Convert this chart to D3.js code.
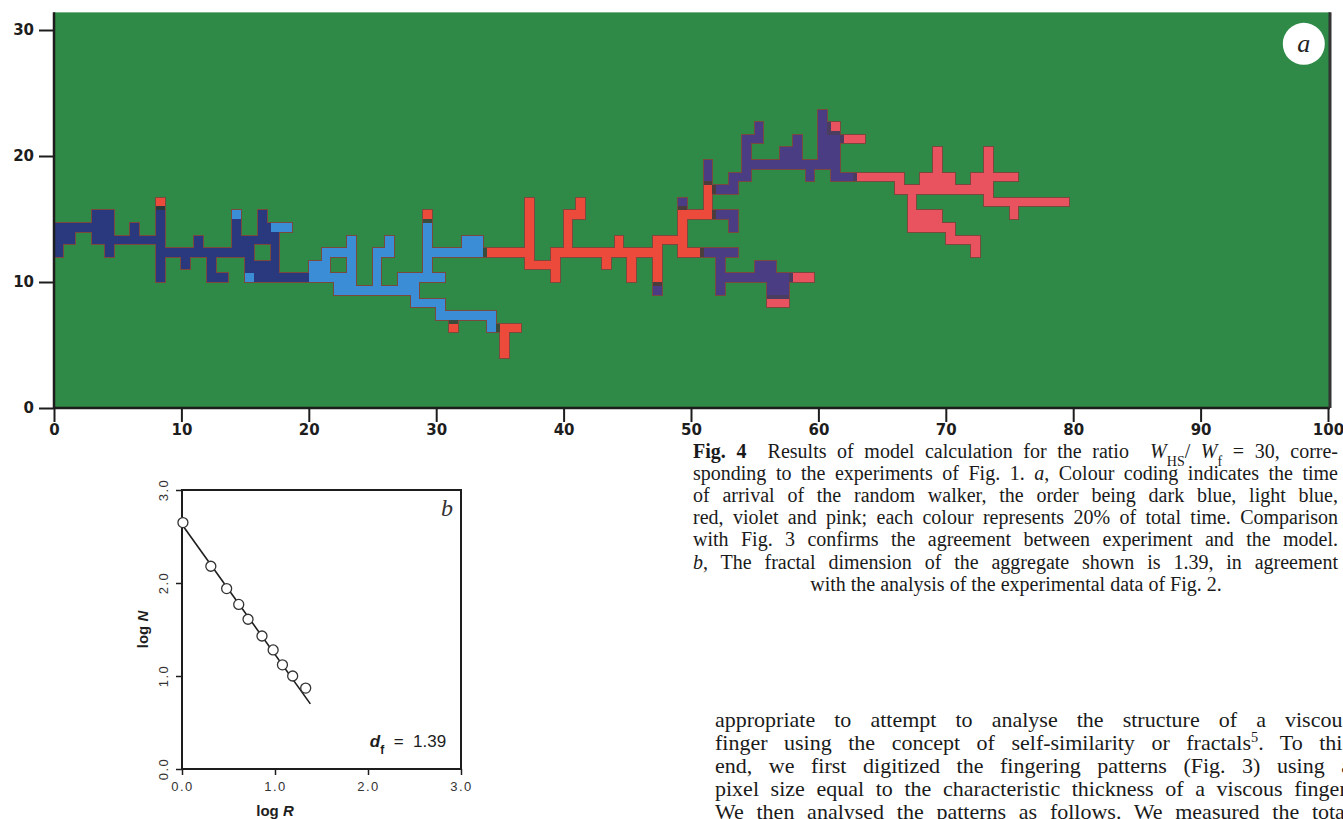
<!DOCTYPE html>
<html>
<head>
<meta charset="utf-8">
<script src="https://cdn.jsdelivr.net/npm/d3@7"></script>
<style>
  body { margin: 0; background: #fff; }
  svg { display: block; }
</style>
</head>
<body>
<svg id="fig" width="1343" height="819"></svg>
<script>
// ---- panel a : lattice cells, one unit per cell, [row, first col, last col]
var aXTicks = [0, 10, 20, 30, 40, 50, 60, 70, 80, 90, 100];
var aYTicks = [0, 10, 20, 30];

var darkBlue = [
  [12,0,0],[13,0,1],[14,0,2],
  [12,4,4],[13,3,4],[14,3,4],[15,3,4],
  [13,5,7],[14,6,6],
  [10,8,8],[11,8,8],[12,8,8],[13,8,8],[14,8,8],[15,8,8],
  [12,9,15],[13,11,11],[11,10,10],[11,12,12],[10,12,13],
  [13,14,14],[14,14,14],
  [11,15,17],[12,17,17],[13,15,17],
  [14,16,16],[15,16,16],
  [10,16,19]
];
var lightBlue = [
  [15,14,14],[10,15,15],[14,17,18],
  [9,22,28],[10,20,23],[11,20,21],[11,23,23],[12,21,23],[13,23,23],
  [10,25,25],[11,25,25],[12,25,26],[13,26,26],
  [10,27,30],[11,29,29],[12,29,33],[13,29,29],[14,29,29],[13,32,33],
  [8,28,30],[7,30,34],[6,34,34]
];
var red = [
  [16,8,8],[15,29,29],[6,31,31],[6,35,36],[4,35,35],[5,35,35],
  [12,34,37],[11,37,39],[13,37,37],[14,37,37],[15,37,37],[16,37,37],
  [10,39,39],[12,39,47],
  [13,40,40],[14,40,40],[15,40,41],[16,41,41],
  [13,44,44],[11,43,43],[10,45,45],[11,45,45],
  [10,47,47],[11,47,47],[13,47,48],
  [12,49,50],[13,49,49],[14,49,49],[15,49,51],[16,51,51],[17,51,51]
];
var violet = [
  [9,47,47],[16,49,49],[18,51,51],[19,51,51],
  [17,52,53],[18,53,54],[19,54,61],[20,54,54],[21,54,55],[22,55,55],
  [20,57,58],[21,58,58],[18,59,59],
  [20,60,61],[21,60,61],[22,60,60],[23,60,60],
  [18,61,62],
  [15,52,53],[14,53,53],
  [12,51,53],[9,52,52],[10,52,57],[11,52,52],[11,55,56],[9,56,57]
];
var pink = [
  [22,61,61],[21,62,63],[18,63,66],[17,66,73],[16,67,67],
  [18,68,70],[19,69,69],[20,69,69],
  [18,72,75],[19,73,73],[20,73,73],
  [16,73,79],[15,75,75],
  [15,67,69],[14,67,70],[13,70,72],[12,72,72],
  [10,58,59],[8,56,57]
];

// ---- panel b : log N against log R
var bTicks = [0, 1, 2, 3];
var logR = [0.01, 0.31, 0.48, 0.61, 0.71, 0.86, 0.98, 1.08, 1.19, 1.33];
var logN = [2.65, 2.18, 1.94, 1.77, 1.61, 1.43, 1.28, 1.12, 1.00, 0.87];
var fitR = [0, 1.38];
var fitN = [2.63, 0.70];

// ---- caption and running text
var captionLines = [
  [["Fig. 4", "b"], ["  Results of model calculation for the ratio  "], ["W", "i"], ["HS", "sub"], ["/ "], ["W", "i"], ["f", "sub"], [" = 30, corre-"]],
  [["sponding to the experiments of Fig. 1. "], ["a", "i"], [", Colour coding indicates the time"]],
  [["of arrival of the random walker, the order being dark blue, light blue,"]],
  [["red, violet and pink; each colour represents 20% of total time. Comparison"]],
  [["with Fig. 3 confirms the agreement between experiment and the model."]],
  [["b", "i"], [", The fractal dimension of the aggregate shown is 1.39, in agreement"]],
  [["with the analysis of the experimental data of Fig. 2."]]
];
var bodyLines = [
  [["appropriate to attempt to analyse the structure of a viscous"]],
  [["finger using the concept of self-similarity or fractals"], ["5", "sup"], [". To this"]],
  [["end, we first digitized the fingering patterns (Fig. 3) using a"]],
  [["pixel size equal to the characteristic thickness of a viscous finger."]],
  [["We then analysed the patterns as follows. We measured the total"]]
];

var palette = {
  green: "#2f8a47",
  edge: "#7a4a3e",
  darkBlue: "#2c387e",
  lightBlue: "#3a8ed6",
  red: "#ec4c3b",
  violet: "#4b3e84",
  pink: "#e9535e",
  ink: "#1d1d1d"
};

var svg = d3.select("#fig");
var defs = svg.append("defs");
defs.append("filter").attr("id", "edgeErode")
  .append("feMorphology").attr("operator", "erode").attr("radius", 1);
defs.append("filter").attr("id", "fillErode")
  .append("feMorphology").attr("operator", "erode").attr("radius", 2);

// ================= panel a =================
var xA = d3.scaleLinear().domain([0, 100]).range([54, 1328]);
var yA = d3.scaleLinear().domain([0, 30]).range([408, 30]);
var aTop = 31.4;

svg.append("rect")
  .attr("x", xA(0)).attr("y", yA(aTop))
  .attr("width", xA(100) - xA(0) + 2)
  .attr("height", yA(0) - yA(aTop))
  .attr("fill", palette.green);

var layers = [
  { runs: darkBlue, fill: palette.darkBlue },
  { runs: lightBlue, fill: palette.lightBlue },
  { runs: red, fill: palette.red },
  { runs: violet, fill: palette.violet },
  { runs: pink, fill: palette.pink }
];

function drawCells(g, runs, fill) {
  g.selectAll(null)
    .data(runs)
    .enter()
    .append("rect")
    .attr("shape-rendering", "crispEdges")
    .attr("x", d => xA(d[1]))
    .attr("y", d => yA(d[0] + 1))
    .attr("width", d => xA(d[2] + 1) - xA(d[1]))
    .attr("height", d => yA(d[0]) - yA(d[0] + 1))
    .attr("fill", fill);
}

// thin dark fringe round the aggregate, then the coloured cells
var edgeG = svg.append("g").attr("filter", "url(#edgeErode)").attr("transform", "translate(-2,2)");
layers.forEach(l => drawCells(edgeG, l.runs, palette.edge));
var fillG = svg.append("g").attr("filter", "url(#fillErode)").attr("transform", "translate(-2,2)");
layers.forEach(l => drawCells(fillG, l.runs, l.fill));

// axes
var axisFont = "'DejaVu Sans', sans-serif";
var gx = svg.append("g")
  .attr("transform", "translate(0," + yA(0) + ")")
  .call(d3.axisBottom(xA).tickValues(aXTicks).tickSize(14).tickPadding(2).tickSizeOuter(0));
gx.select(".domain").remove();
gx.selectAll("line").attr("stroke", palette.ink).attr("stroke-width", 2);
gx.selectAll("text").attr("fill", palette.ink)
  .style("font-family", axisFont).style("font-weight", "bold").style("font-size", "15px");

var gy = svg.append("g")
  .attr("transform", "translate(" + xA(0) + ",0)")
  .call(d3.axisLeft(yA).tickValues(aYTicks).tickSize(15).tickPadding(5).tickSizeOuter(0));
gy.select(".domain").remove();
gy.selectAll("line").attr("stroke", palette.ink).attr("stroke-width", 2);
gy.selectAll("text").attr("fill", palette.ink)
  .style("font-family", axisFont).style("font-weight", "bold").style("font-size", "15px");

svg.append("line")
  .attr("x1", xA(0)).attr("x2", xA(0)).attr("y1", yA(aTop)).attr("y2", yA(0) + 1)
  .attr("stroke", palette.ink).attr("stroke-width", 2.5);
svg.append("line")
  .attr("x1", xA(0)).attr("x2", xA(100) + 2).attr("y1", yA(0)).attr("y2", yA(0))
  .attr("stroke", palette.ink).attr("stroke-width", 2.5);
svg.append("line")
  .attr("x1", xA(100) + 2).attr("x2", xA(100) + 2).attr("y1", yA(aTop)).attr("y2", yA(0))
  .attr("stroke", "#333").attr("stroke-width", 3);

// panel letter
svg.append("circle").attr("cx", xA(98.1)).attr("cy", yA(28.9)).attr("r", 21).attr("fill", "#fff");
svg.append("text")
  .attr("x", xA(98.1)).attr("y", yA(28.9) + 8)
  .attr("text-anchor", "middle")
  .style("font-family", "'Liberation Serif', serif")
  .style("font-style", "italic").style("font-size", "26px")
  .attr("fill", "#222")
  .text("a");

// ================= panel b =================
var bx = d3.scaleLinear().domain([0, 3]).range([182, 461]);
var by = d3.scaleLinear().domain([0, 3]).range([769, 490]);
var bFont = "'Liberation Sans', sans-serif";

svg.append("rect")
  .attr("x", bx(0)).attr("y", by(3))
  .attr("width", bx(3) - bx(0)).attr("height", by(0) - by(3))
  .attr("fill", "none").attr("stroke", palette.ink).attr("stroke-width", 2);

var bxAxis = svg.append("g")
  .attr("transform", "translate(0," + by(0) + ")")
  .call(d3.axisBottom(bx).tickValues(bTicks).tickFormat(d3.format(".1f")).tickSize(6).tickPadding(7));
bxAxis.select(".domain").remove();
bxAxis.selectAll("line").attr("stroke", palette.ink).attr("stroke-width", 1.5);
bxAxis.selectAll("text").attr("fill", "#333")
  .style("font-family", bFont).style("font-size", "13px").style("letter-spacing", "1.5px");

var byAxis = svg.append("g")
  .attr("transform", "translate(" + bx(0) + ",0)")
  .call(d3.axisLeft(by).tickValues(bTicks).tickSize(6));
byAxis.select(".domain").remove();
byAxis.selectAll("text").remove();
byAxis.selectAll("line").attr("stroke", palette.ink).attr("stroke-width", 1.5);
svg.append("g").selectAll("text")
  .data(bTicks)
  .enter()
  .append("text")
  .attr("transform", d => "translate(" + (bx(0) - 14) + "," + by(d) + ") rotate(-90)")
  .attr("text-anchor", "middle")
  .attr("fill", "#333")
  .style("font-family", bFont).style("font-size", "13px").style("letter-spacing", "1.5px")
  .text(d3.format(".1f"));

// axis titles
var yTitle = svg.append("text")
  .attr("transform", "translate(" + (bx(0) - 34) + "," + by(1.5) + ") rotate(-90)")
  .attr("text-anchor", "middle")
  .attr("fill", palette.ink)
  .style("font-family", bFont).style("font-weight", "bold").style("font-size", "15px");
yTitle.append("tspan").text("log ");
yTitle.append("tspan").style("font-style", "italic").text("N");

var xTitle = svg.append("text")
  .attr("x", bx(1)).attr("y", by(0) + 47)
  .attr("text-anchor", "middle")
  .attr("fill", palette.ink)
  .style("font-family", bFont).style("font-weight", "bold").style("font-size", "15px");
xTitle.append("tspan").text("log ");
xTitle.append("tspan").style("font-style", "italic").text("R");

// fit line and points
var pts = logR.map((r, i) => ({ r: r, n: logN[i] }));
svg.append("path")
  .datum(fitR.map((r, i) => ({ r: r, n: fitN[i] })))
  .attr("d", d3.line().x(d => bx(d.r)).y(d => by(d.n)))
  .attr("fill", "none").attr("stroke", palette.ink).attr("stroke-width", 1.6);
svg.append("g").selectAll("circle")
  .data(pts)
  .enter()
  .append("circle")
  .attr("cx", d => bx(d.r)).attr("cy", d => by(d.n))
  .attr("r", 5)
  .attr("fill", "#fff").attr("stroke", "#333").attr("stroke-width", 1.3);

// dimension label and panel letter
var dLab = svg.append("text")
  .attr("x", bx(2.84)).attr("y", by(0.24))
  .attr("text-anchor", "end")
  .attr("fill", palette.ink)
  .style("white-space", "pre")
  .style("font-family", bFont).style("font-size", "17px");
dLab.append("tspan").style("font-weight", "bold").style("font-style", "italic").text("d");
dLab.append("tspan").style("font-weight", "bold").attr("baseline-shift", "sub").style("font-size", "12px").text("f");
dLab.append("tspan").text("  =  1.39");

svg.append("text")
  .attr("x", bx(2.85)).attr("y", by(2.72))
  .attr("text-anchor", "middle")
  .attr("fill", "#333")
  .style("font-family", "'Liberation Serif', serif")
  .style("font-style", "italic").style("font-size", "24px")
  .text("b");

// ================= text =================
// justified by widening the word gaps, like the printed page
function writeLine(x, y, segs, size, width, anchor) {
  var t = svg.append("text")
    .attr("x", x).attr("y", y)
    .attr("fill", "#1a1a1a")
    .attr("text-anchor", anchor || "start")
    .style("white-space", "pre")
    .style("font-family", "'Liberation Serif', 'Times New Roman', serif")
    .style("font-size", size + "px");
  segs.forEach(function(s) {
    var ts = t.append("tspan").text(s[0]);
    if (s[1] === "b") ts.style("font-weight", "bold");
    if (s[1] === "i") ts.style("font-style", "italic");
    if (s[1] === "sub") ts.attr("baseline-shift", "sub").style("font-size", "70%");
    if (s[1] === "sup") ts.attr("baseline-shift", "super").style("font-size", "65%");
  });
  if (width) {
    var full = segs.map(s => s[0]).join("");
    var gaps = (full.match(/ /g) || []).length;
    var natural = t.node().getComputedTextLength();
    if (gaps > 0) t.style("word-spacing", ((width - natural) / gaps) + "px");
  }
  return t;
}

captionLines.forEach(function(segs, i) {
  var y = 458 + i * 22.1;
  if (i === captionLines.length - 1) {
    writeLine(1016, y, segs, 20, null, "middle");
  } else {
    writeLine(693, y, segs, 20, 645);
  }
});

bodyLines.forEach(function(segs, i) {
  writeLine(715, 727 + i * 23, segs, 22, 636);
});
</script>
</body>
</html>
